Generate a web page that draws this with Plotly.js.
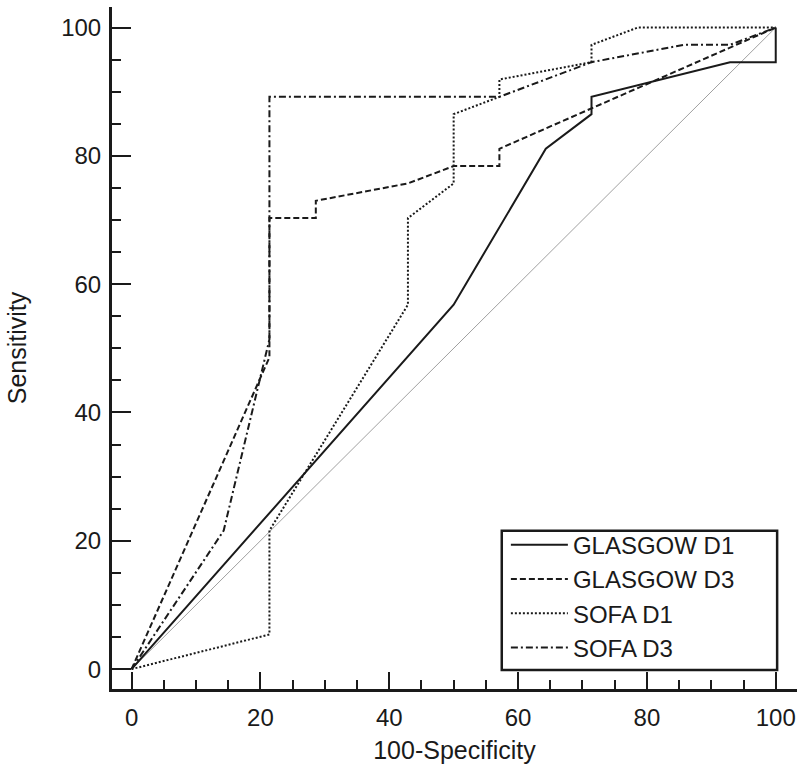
<!DOCTYPE html>
<html>
<head>
<meta charset="utf-8">
<script src="https://cdn.plot.ly/plotly-3.0.1.min.js"></script>
<style>
  html, body { margin: 0; padding: 0; background: #fff; }
  #roc { width: 800px; height: 772px; }
</style>
</head>
<body>
<div id="roc"></div>
<script>
// ROC curves, 100-Specificity (x) vs Sensitivity (y)
let glasgowD1X = [0, 50, 64.3, 71.4, 71.4, 92.9, 100, 100];
let glasgowD1Y = [0, 56.8, 81.1, 86.5, 89.2, 94.6, 94.6, 100];

let glasgowD3X = [0, 21.4, 21.4, 28.6, 28.6, 42.9, 50, 57.1, 57.1, 100];
let glasgowD3Y = [0, 48.6, 70.3, 70.3, 73.0, 75.7, 78.4, 78.4, 81.1, 100];

let sofaD1X = [0, 21.4, 21.4, 42.9, 42.9, 50, 50, 57.1, 57.1, 71.4, 71.4, 78.6, 100];
let sofaD1Y = [0, 5.4, 21.6, 56.8, 70.3, 75.7, 86.5, 89.2, 91.9, 94.6, 97.3, 100, 100];

let sofaD3X = [0, 14.3, 21.4, 21.4, 57.1, 71.4, 85.7, 92.9, 100];
let sofaD3Y = [0, 21.6, 51.4, 89.2, 89.2, 94.6, 97.3, 97.3, 100];

let diagX = [0, 100];
let diagY = [0, 100];

let seriesNames = ["GLASGOW D1", "GLASGOW D3", "SOFA D1", "SOFA D3"];

let font = "Liberation Sans, Arial, sans-serif";
let ink = "#1a1a1a";

function rocTrace(x, y, name, dash) {
    return {
        x: x,
        y: y,
        mode: 'lines',
        name: name,
        line: { color: ink, width: 2, dash: dash }
    };
}

let traces = [
    {
        x: diagX,
        y: diagY,
        mode: 'lines',
        showlegend: false,
        hoverinfo: 'skip',
        line: { color: '#a0a0a0', width: 1 }
    },
    rocTrace(glasgowD1X, glasgowD1Y, seriesNames[0], 'solid'),
    rocTrace(glasgowD3X, glasgowD3Y, seriesNames[1], '6px,3px'),
    rocTrace(sofaD1X, sofaD1Y, seriesNames[2], '2px,2px'),
    rocTrace(sofaD3X, sofaD3Y, seriesNames[3], '7px,3px,2px,3px')
];

let axisCommon = {
    showgrid: false,
    zeroline: false,
    showline: true,
    linecolor: ink,
    linewidth: 3,
    ticks: 'inside',
    tickcolor: ink,
    tickwidth: 2,
    ticklen: 18,
    dtick: 20,
    tick0: 0,
    tickfont: { family: font, size: 24, color: ink },
    minor: { dtick: 5, ticks: 'inside', ticklen: 9, tickwidth: 2, tickcolor: ink },
    fixedrange: true
};

let layout = {
    width: 800,
    height: 772,
    margin: { l: 112, r: 3, t: 7, b: 83 },
    paper_bgcolor: '#fff',
    plot_bgcolor: '#fff',
    showlegend: true,
    xaxis: Object.assign({}, axisCommon, {
        range: [-3.04, 103.3],
        ticklen: 17,
        ticklabelstandoff: 5,
        title: { text: '100-Specificity', font: { family: font, size: 25, color: ink }, standoff: 12 }
    }),
    yaxis: Object.assign({}, axisCommon, {
        range: [-3.1, 103.2],
        ticklen: 19,
        ticklabelstandoff: 3,
        title: { text: 'Sensitivity', font: { family: font, size: 25, color: ink }, standoff: 28 }
    }),
    // legend frame drawn as a box so it can be wider than the text
    shapes: [{
        type: 'rect',
        xref: 'paper', yref: 'paper',
        x0: 0.569, x1: 0.971, y0: 0.028, y1: 0.232,
        line: { color: ink, width: 2.5 },
        fillcolor: '#fff',
        layer: 'below'
    }],
    legend: {
        x: 0.575,
        y: 0.136,
        xanchor: 'left',
        yanchor: 'middle',
        bgcolor: 'rgba(0,0,0,0)',
        borderwidth: 0,
        itemwidth: 57,
        font: { family: font, size: 24, color: ink }
    }
};

Plotly.newPlot('roc', traces, layout, { displayModeBar: false, staticPlot: true });
</script>
</body>
</html>
